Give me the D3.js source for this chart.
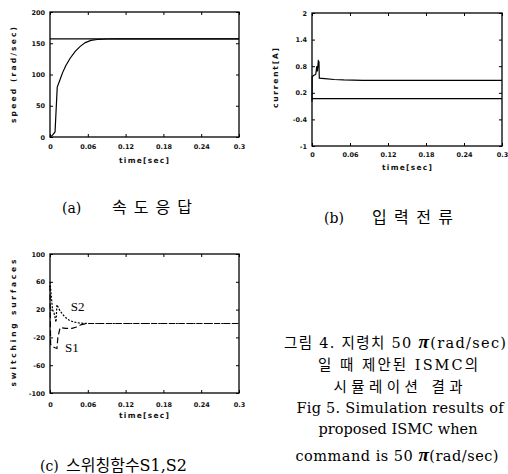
<!DOCTYPE html>
<html>
<head>
<meta charset="utf-8">
<script src="https://cdn.jsdelivr.net/npm/d3@7"></script>
<style>
  body { margin: 0; background: #fff; }
  svg { display: block; }
</style>
</head>
<body>
<svg id="chart" width="508" height="474"></svg>
<script>
// time axis shared by the three plots
let timeTicks = [0, 0.06, 0.12, 0.18, 0.24, 0.3]

// (a) speed response
let speedT = [0, 0.004, 0.008, 0.0115, 0.016, 0.02, 0.025, 0.032, 0.04, 0.048, 0.056, 0.065, 0.075, 0.09, 0.11, 0.3]
let speedV = [0, 3, 8, 80, 92, 103, 114, 126, 137, 145, 151, 154.5, 156, 156.8, 157, 157]
let speedRef = 157
let speedTicks = [0, 50, 100, 150, 200]

// (b) input current
let currentT = [0, 0.0003, 0.004, 0.006, 0.0075, 0.0085, 0.01, 0.011, 0.0115, 0.02, 0.035, 0.05, 0.08, 0.12, 0.3]
let currentV = [0, 0.57, 0.6, 0.62, 0.8, 0.68, 0.92, 0.9, 0.53, 0.52, 0.5, 0.49, 0.48, 0.48, 0.48]
let currentBase = 0.07
let currentTicks = [-1, -0.4, 0.2, 0.8, 1.4, 2]

// (c) switching surfaces
let s1T = [0, 0.001, 0.004, 0.008, 0.011, 0.0125, 0.016, 0.025, 0.035, 0.042, 0.05, 0.06, 0.3]
let s1V = [55, -30, -33, -35, -36, -20, -6, -7, -7, -5, -1.5, 0, 0]
let s2T = [0, 0.0015, 0.004, 0.0065, 0.0095, 0.011, 0.016, 0.023, 0.03, 0.038, 0.048, 0.06, 0.3]
let s2V = [60, 45, 20, 15, 2, 27, 18, 10, 5, 2, 0.5, 0, 0]
let surfTicks = [-100, -60, -20, 20, 60, 100]

// figure caption
let captionLines = [
  '그림 4. 지령치 50 π(rad/sec)',
  '일 때 제안된 ISMC의',
  '시뮬레이션 결과',
  'Fig 5. Simulation results of',
  'proposed ISMC when',
  'command is 50 π(rad/sec)'
]

let svg = d3.select('#chart')

let tickFont = 'DejaVu Sans'
let fmt = (d) => {
  return String(d)
}

function panel(box, yDomain, yTicks, xPad) {
  let x = d3.scaleLinear().domain([0, 0.3]).range([box.left, box.right])
  let y = d3.scaleLinear().domain(yDomain).range([box.bottom, box.top])
  let g = svg.append('g')

  let styleAxis = (a) => {
    a.select('.domain').remove()
    a.selectAll('line').attr('stroke', '#000').attr('stroke-width', 1)
    a.selectAll('text')
      .attr('fill', '#111')
      .attr('font-family', tickFont)
      .attr('font-weight', 'bold')
      .attr('font-size', 6.5)
  }

  // inward ticks on all four sides
  g.append('g')
    .attr('transform', `translate(0,${box.bottom})`)
    .call(d3.axisBottom(x).tickValues(timeTicks).tickSizeInner(-3).tickSizeOuter(0).tickPadding(xPad).tickFormat(fmt))
    .call(styleAxis)
  g.append('g')
    .attr('transform', `translate(0,${box.top})`)
    .call(d3.axisTop(x).tickValues(timeTicks).tickSizeInner(-3).tickSizeOuter(0).tickFormat(''))
    .call(styleAxis)
  g.append('g')
    .attr('transform', `translate(${box.left},0)`)
    .call(d3.axisLeft(y).tickValues(yTicks).tickSizeInner(-3).tickSizeOuter(0).tickPadding(5).tickFormat(fmt))
    .call(styleAxis)
  g.append('g')
    .attr('transform', `translate(${box.right},0)`)
    .call(d3.axisRight(y).tickValues(yTicks).tickSizeInner(-3).tickSizeOuter(0).tickFormat(''))
    .call(styleAxis)

  g.append('rect')
    .attr('x', box.left)
    .attr('y', box.top)
    .attr('width', box.right - box.left)
    .attr('height', box.bottom - box.top)
    .attr('fill', 'none')
    .attr('stroke', '#000')
    .attr('stroke-width', 1.3)

  return { x: x, y: y, g: g }
}

function curve(p, ts, vs, dash) {
  p.g
    .append('path')
    .datum(d3.zip(ts, vs))
    .attr(
      'd',
      d3
        .line()
        .x((d) => {
          return p.x(d[0])
        })
        .y((d) => {
          return p.y(d[1])
        })
    )
    .attr('fill', 'none')
    .attr('stroke', '#000')
    .attr('stroke-width', 1.2)
    .attr('stroke-dasharray', dash)
}

function hline(p, v) {
  p.g
    .append('line')
    .attr('x1', p.x(0))
    .attr('x2', p.x(0.3))
    .attr('y1', p.y(v))
    .attr('y2', p.y(v))
    .attr('stroke', '#000')
    .attr('stroke-width', 1.3)
}

function axisTitle(txt, x, y, len, rotate) {
  svg
    .append('text')
    .attr('transform', `translate(${x},${y})` + (rotate ? ' rotate(-90)' : ''))
    .attr('text-anchor', 'middle')
    .attr('dominant-baseline', 'central')
    .attr('font-family', tickFont)
    .attr('font-weight', 'bold')
    .attr('font-size', 7.5)
    .attr('fill', '#111')
    .attr('textLength', len)
    .text(txt)
}

// (a)
let pa = panel({ left: 50, right: 239, top: 12, bottom: 137 }, [0, 200], speedTicks, 7.5)
hline(pa, speedRef)
curve(pa, speedT, speedV, null)
axisTitle('speed (rad/sec)', 13, 75, 96, true)
axisTitle('time[sec]', 144, 160, 50, false)

// (b)
let pb = panel({ left: 312, right: 502, top: 13, bottom: 146 }, [-1, 2], currentTicks, 6.5)
hline(pb, currentBase)
curve(pb, currentT, currentV, null)
axisTitle('current[A]', 275, 78, 60, true)
axisTitle('time[sec]', 407, 167, 50, false)

// (c)
let pc = panel({ left: 50, right: 239, top: 254, bottom: 393 }, [-100, 100], surfTicks, 9.5)
curve(pc, s2T, s2V, '2,1.5')
curve(pc, s1T, s1V, '6,3')
axisTitle('switching surfaces', 13, 323, 127, true)
axisTitle('time[sec]', 144, 415, 50, false)

// S1 / S2 labels
pc.g
  .append('text')
  .attr('x', pc.x(0.033))
  .attr('y', pc.y(18))
  .attr('font-family', 'Liberation Serif')
  .attr('font-size', 13)
  .text('S2')
pc.g
  .append('text')
  .attr('x', pc.x(0.024))
  .attr('y', pc.y(-41))
  .attr('font-family', 'Liberation Serif')
  .attr('font-size', 13)
  .text('S1')

// sub captions
let serifKr = 'DejaVu Serif, Noto Sans CJK KR'
function subCap(tag, x1, txt, x2, len, y, size) {
  svg.append('text').attr('x', x1).attr('y', y)
    .attr('font-family', serifKr).attr('font-size', 14).text(tag)
  let t = svg.append('text').attr('x', x2).attr('y', y)
    .attr('font-family', serifKr).attr('font-size', size)
    .text(txt)
  if (len) t.attr('textLength', len)
}
subCap('(a)', 62, '속도응답', 112, 80, 213, 16)
subCap('(b)', 324, '입력전류', 372, 81, 223, 16)
subCap('(c)', 40, '스위칭함수S1,S2', 66, null, 471, 16)

// figure caption block on the right
let capX = [395, 398, 398, 400, 398, 397]
let capY = [348, 370, 392, 413, 434, 461]
let capLen = [222, 160, 129, 207, 159, 203]
captionLines.forEach((line, i) => {
  let t = svg
    .append('text')
    .attr('x', capX[i])
    .attr('y', capY[i])
    .attr('text-anchor', 'middle')
    .attr('font-family', serifKr)
    .attr('font-size', 14.5)
    .attr('textLength', capLen[i])
  let parts = line.split('π')
  parts.forEach((part, j) => {
    if (j > 0) {
      t.append('tspan')
        .attr('font-family', 'Liberation Serif')
        .attr('font-style', 'italic')
        .attr('font-weight', 'bold')
        .attr('font-size', 19)
        .text('π')
    }
    t.append('tspan').text(part)
  })
})
</script>
</body>
</html>
